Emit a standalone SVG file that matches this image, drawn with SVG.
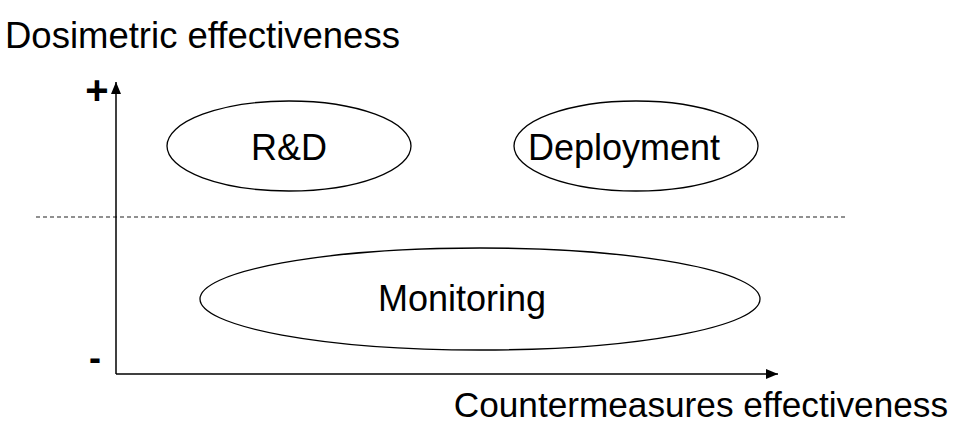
<svg xmlns="http://www.w3.org/2000/svg" width="953" height="424" viewBox="0 0 953 424">
  <style>
    text { font-family: "Liberation Sans", Arial, sans-serif; font-size: 36px; fill: #000; }
    .mid { text-anchor: middle; }
    .region { fill: #fff; stroke: #000; stroke-width: 1.3; }
    .axis { stroke: #000; stroke-width: 1.5; fill: none; }
    .guide { stroke: #222; stroke-width: 1.2; stroke-dasharray: 4 3; fill: none; }
  </style>
  <defs>
    <marker id="arrow" viewBox="0 0 12 10" refX="12" refY="5" markerWidth="12" markerHeight="10" markerUnits="userSpaceOnUse" orient="auto">
      <path d="M0,0 L12,5 L0,10 Z" fill="#000"/>
    </marker>
  </defs>
  <rect width="953" height="424" fill="#fff"/>

  <!-- axis titles and end labels -->
  <text x="5" y="48" style="font-size:36.5px">Dosimetric effectiveness</text>
  <text x="948" y="417" text-anchor="end" style="font-size:35.2px">Countermeasures effectiveness</text>
  <text x="97" y="104" class="mid" style="font-size:40px;font-weight:bold">+</text>
  <text x="95" y="370" class="mid" style="font-weight:bold">-</text>

  <!-- connectors: axes and threshold line -->
  <g id="connectors">
    <line class="guide" x1="36" y1="217" x2="845" y2="217"/>
    <path class="axis" d="M116,374 L116,82" marker-end="url(#arrow)"/>
    <path class="axis" d="M116,374 L778,374" marker-end="url(#arrow)"/>
  </g>

  <g id="rnd">
    <ellipse class="region" cx="289" cy="146" rx="122" ry="45"/>
    <text x="289" y="160" class="mid">R&amp;D</text>
  </g>
  <g id="deployment">
    <ellipse class="region" cx="636" cy="146" rx="122" ry="45"/>
    <text x="624" y="160" class="mid">Deployment</text>
  </g>
  <g id="monitoring">
    <ellipse class="region" cx="480" cy="299" rx="280" ry="51"/>
    <text x="462" y="311" class="mid">Monitoring</text>
  </g>
</svg>
